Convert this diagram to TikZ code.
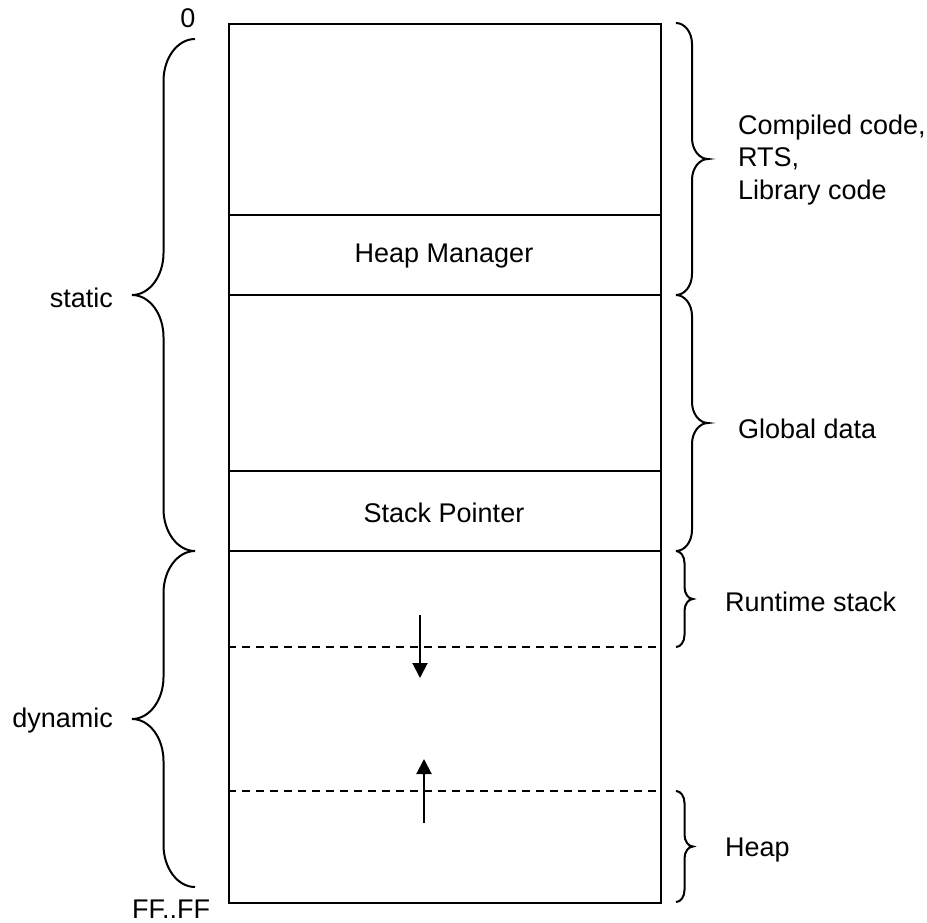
\documentclass[tikz,border=0pt]{standalone}
\usepackage{fontspec}
\setmainfont{Liberation Sans}
\usetikzlibrary{arrows.meta}

% Curly brace along a vertical span.
% #1 = x of the open ends, #2 = top y, #3 = bottom y,
% #4 = direction (1 opens right, -1 opens left), #5 = half width, #6 = curve height
\newcommand\membrace[6]{%
  \pgfmathsetmacro\bxa{#1}%
  \pgfmathsetmacro\bya{#2}%
  \pgfmathsetmacro\byb{#3}%
  \pgfmathsetmacro\bym{(#2+#3)/2}%
  \pgfmathsetmacro\bmid{#1+#4*#5}%
  \pgfmathsetmacro\btip{#1+2*#4*#5}%
  \pgfmathsetmacro\bkx{0.552*#4*#5}%
  \pgfmathsetmacro\bky{0.552*#6}%
  \draw[bracel] (\bxa,\bya)
    .. controls (\bxa+\bkx,\bya) and (\bmid,\bya+#6-\bky) .. (\bmid,\bya+#6)
    -- (\bmid,\bym-#6)
    .. controls (\bmid,\bym-#6+\bky) and (\btip-\bkx,\bym) .. (\btip,\bym)
    .. controls (\btip-\bkx,\bym) and (\bmid,\bym+#6-\bky) .. (\bmid,\bym+#6)
    -- (\bmid,\byb-#6)
    .. controls (\bmid,\byb-#6+\bky) and (\bxa+\bkx,\byb) .. (\bxa,\byb);%
}

\begin{document}
\begin{tikzpicture}[x=1pt,y=-1pt,
  every node/.style={font=\fontsize{27}{32.5}\selectfont, inner sep=0pt},
  wall/.style={line width=2pt},
  divider/.style={line width=2pt},
  growline/.style={line width=2.2pt, dash pattern=on 7.5pt off 6.5pt},
  growarrow/.style={line width=2pt, -{Triangle[length=15pt,width=15pt]}},
  bracel/.style={line width=2pt, line cap=butt},
  lbl/.style={anchor=west, align=left},
  rlbl/.style={anchor=east}]
\useasboundingbox (0,0) rectangle (927,923);

% memory block
\node[wall, draw, rectangle, minimum width=432pt, minimum height=879pt,
      anchor=north west] (mem) at (228,23) {};

% segment boundaries
\coordinate (l1) at (0,215);
\coordinate (l2) at (0,295);
\coordinate (l3) at (0,471);
\coordinate (l4) at (0,551);
\coordinate (d1) at (0,647);
\coordinate (d2) at (0,791);
\draw[divider] (mem.west |- l1) -- (mem.east |- l1);
\draw[divider] (mem.west |- l2) -- (mem.east |- l2);
\draw[divider] (mem.west |- l3) -- (mem.east |- l3);
\draw[divider] (mem.west |- l4) -- (mem.east |- l4);
\draw[growline] (mem.west |- d1) -- (mem.east |- d1);
\draw[growline] (mem.west |- d2) -- (mem.east |- d2);

% labels inside the block
\node (hm) at (444,256) {Heap Manager};
\node (sp) at (444,513) {Stack Pointer};

% growth directions
\coordinate (sa) at (420,615);
\coordinate (sb) at (420,678);
\coordinate (ha) at (424,823);
\coordinate (hb) at (424,759);
\draw[growarrow] (sa) -- (sb);
\draw[growarrow] (ha) -- (hb);

% address labels
\node (zero) at (188,18) {0};
\node (ff) at (171,909) {FF..FF};

% left braces
\membrace{195}{39}{551}{-1}{31.5}{42}
\membrace{195}{551}{887}{-1}{31.5}{42}
\node[rlbl] (static) at (113,298) {static};
\node[rlbl] (dynamic) at (113,721) {dynamic};

% right braces
\membrace{676}{23}{295}{1}{16}{21}
\membrace{676}{295}{551}{1}{16}{21}
\membrace{676}{551}{647}{1}{8.5}{12}
\membrace{676}{791}{902}{1}{8.5}{12}
\node[lbl] (code) at (738,160) {Compiled code,\\RTS,\\Library code};
\node[lbl] (global) at (738,429) {Global data};
\node[lbl] (stack) at (725,602) {Runtime stack};
\node[lbl] (heap) at (725,850) {Heap};
\end{tikzpicture}
\end{document}
